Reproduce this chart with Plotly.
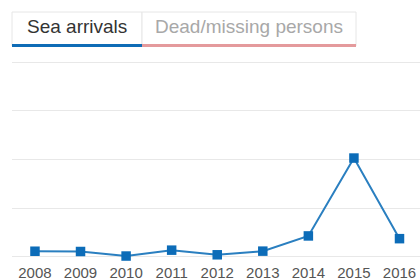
import plotly.graph_objects as go

years = ["2008", "2009", "2010", "2011", "2012", "2013", "2014", "2015", "2016"]
sea_arrivals = [59000, 56250, 9700, 70000, 22500, 60000, 216000, 1015000, 188000]
tab_labels = ["Sea arrivals", "Dead/missing persons"]

W, H = 420, 280
PL, PR, PT, PB = 12, 0, 52, 20  # plot area margins (px)
pw, ph = W - PL - PR, H - PT - PB

def px_x(x):
    return (x - PL) / pw

def px_y(y):
    return (H - PB - y) / ph

fig = go.Figure()
fig.add_trace(go.Scatter(
    x=years, y=sea_arrivals, mode="lines+markers",
    line=dict(color="#2a7fc0", width=2),
    marker=dict(symbol="square", size=9.5, color="#0c6cb8"),
    cliponaxis=False, hoverinfo="skip", showlegend=False,
))

shapes = []
shapes.append(dict(type="rect", xref="paper", yref="paper",
                   x0=px_x(12), x1=px_x(142), y0=px_y(46), y1=px_y(12),
                   line=dict(color="#e6e6e6", width=1), fillcolor="white", layer="above"))
shapes.append(dict(type="rect", xref="paper", yref="paper",
                   x0=px_x(142), x1=px_x(356), y0=px_y(46), y1=px_y(12),
                   line=dict(color="#e6e6e6", width=1), fillcolor="white", layer="above"))
shapes.append(dict(type="rect", xref="paper", yref="paper",
                   x0=px_x(12), x1=px_x(142), y0=px_y(47), y1=px_y(44),
                   line=dict(width=0), fillcolor="#0f6cb6", layer="above"))
shapes.append(dict(type="rect", xref="paper", yref="paper",
                   x0=px_x(142), x1=px_x(356), y0=px_y(47), y1=px_y(44),
                   line=dict(width=0), fillcolor="#e49a9c", layer="above"))
fig.update_layout(shapes=shapes)

fig.add_annotation(text=tab_labels[0], xref="paper", yref="paper",
                   x=px_x(77), y=px_y(27), showarrow=False,
                   font=dict(size=19, color="#333333"), xanchor="center", yanchor="middle")
fig.add_annotation(text=tab_labels[1], xref="paper", yref="paper",
                   x=px_x(249), y=px_y(27), showarrow=False,
                   font=dict(size=19, color="#a8a8a8"), xanchor="center", yanchor="middle")

unit = 500000 / 48.5  # value per pixel
y_top = 2000000 + (62 - PT) * unit
y_bot = -(H - PB - 257) * unit

fig.update_layout(
    width=W, height=H,
    margin=dict(l=PL, r=PR, t=PT, b=PB),
    paper_bgcolor="white", plot_bgcolor="white",
    font=dict(family="Liberation Sans, Arial, sans-serif"),
    xaxis=dict(type="category", range=[-0.504, 8.45], showgrid=False,
               showline=False, zeroline=False, ticks="", ticklabelstandoff=2,
               tickfont=dict(size=15, color="#555555")),
    yaxis=dict(range=[y_bot, y_top], tickvals=[0, 500000, 1000000, 1500000, 2000000],
               showticklabels=False, showgrid=True, gridcolor="#e8e8e8", gridwidth=1,
               zeroline=True, zerolinecolor="#e8e8e8", zerolinewidth=1, showline=False),
)

fig.write_html("out.html", config={"displayModeBar": False},
               post_script="document.body.style.margin='0';document.body.style.overflow='hidden';")
